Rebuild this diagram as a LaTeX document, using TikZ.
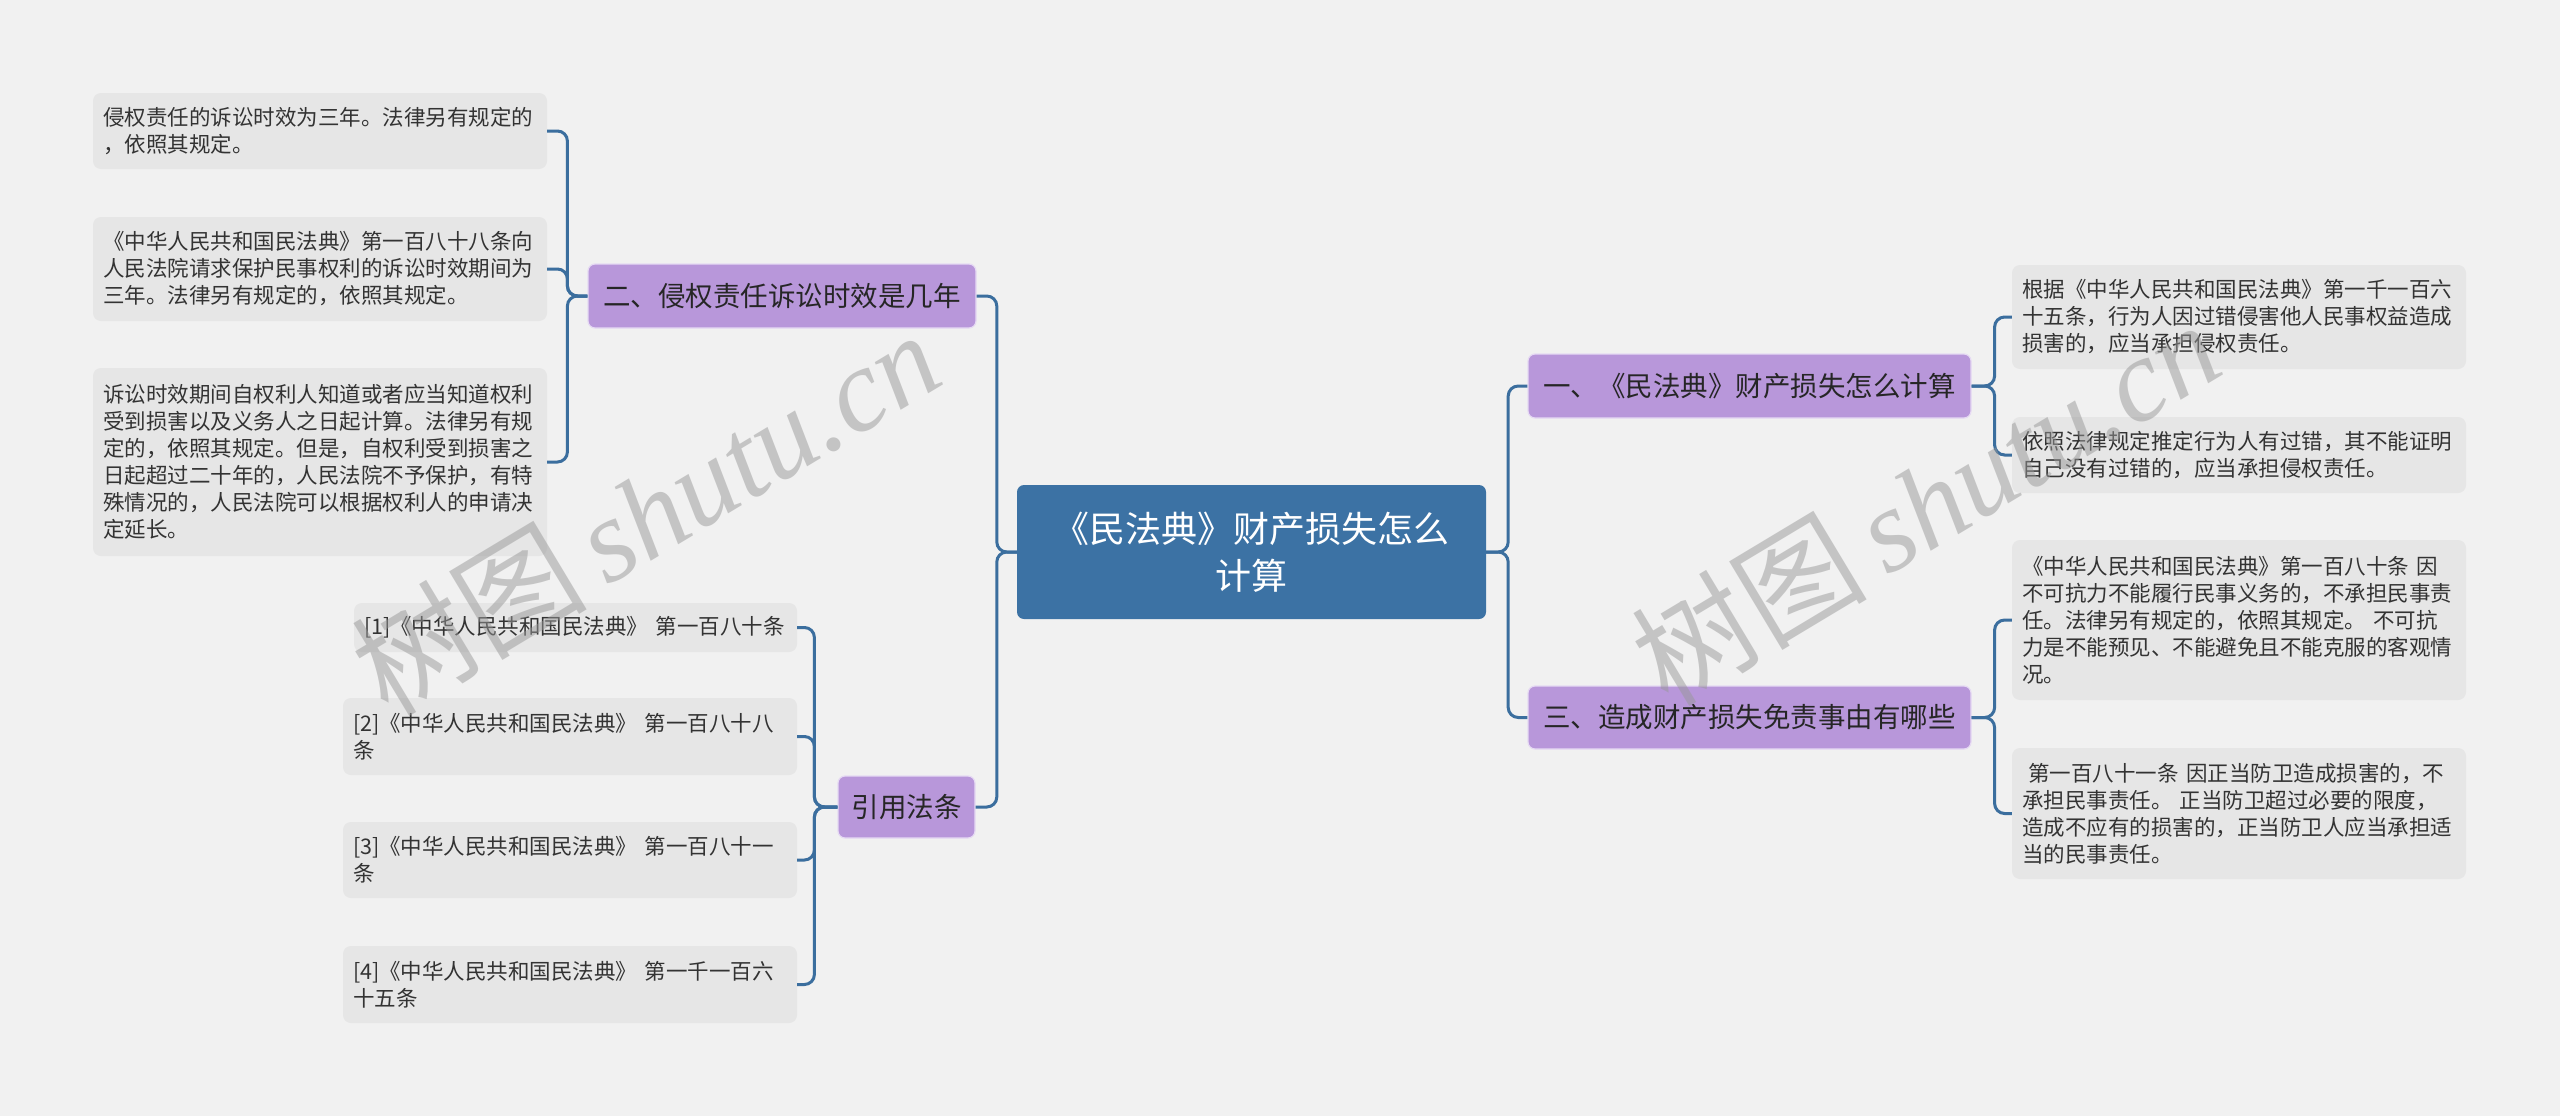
\documentclass[tikz,border=0pt]{standalone}
\usepackage{fontspec}
\setmainfont{Noto Sans CJK SC}
\newfontfamily\cjk{Noto Sans CJK SC}
\newfontfamily\wmlatin{Liberation Serif}
\definecolor{bgc}{HTML}{F1F1F1}
\definecolor{leafc}{HTML}{E6E6E6}
\definecolor{connc}{HTML}{3B6E9E}
\definecolor{rootc}{HTML}{3C72A4}
\definecolor{purc}{HTML}{B897DA}
\definecolor{purl}{HTML}{E6DAF3}
\definecolor{textc}{HTML}{333333}
\definecolor{wmc}{HTML}{989898}
\tikzset{
  leafbox/.style={fill=leafc, rounded corners=8, inner xsep=10, inner ysep=0,
    align=left, text=textc, font=\fontsize{21.5}{27}\selectfont, anchor=center},
  branchbox/.style={fill=purc, draw=purl, line width=1.2, rounded corners=7, inner sep=0,
    align=center, text=black!85, font=\fontsize{27.5}{34}\selectfont, anchor=center},
  rootbox/.style={fill=rootc, rounded corners=7, inner sep=0, align=center,
    text=white, font=\fontsize{36}{47}\selectfont, anchor=center},
  conn/.style={draw=connc, line width=3, rounded corners=10},
  wm/.style={text=wmc, opacity=0.5, font=\fontsize{118}{118}\selectfont, anchor=center, inner sep=0}
}
\begin{document}
\begin{tikzpicture}[x=1pt,y=-1pt]
\path[fill=bgc] (0,0) rectangle (2560,1116);
\useasboundingbox (0,0) rectangle (2560,1116);

% root
\node[rootbox, minimum width=469, minimum height=134, text width=450] (root) at (1251.5,552)
  {《民法典》财产损失怎么\\计算};

% branches
\node[branchbox, minimum width=388, minimum height=64] (b2) at (782,296) {二、侵权责任诉讼时效是几年};
\node[branchbox, minimum width=137, minimum height=62] (bc) at (906.5,807) {引用法条};
\node[branchbox, minimum width=443, minimum height=64] (b1) at (1749.5,386) {一、《民法典》财产损失怎么计算};
\node[branchbox, minimum width=443, minimum height=63] (b3) at (1749.5,717.5) {三、造成财产损失免责事由有哪些};

% left leaves
\node[leafbox, text width=434, minimum height=76] (l1) at (320,131)
  {侵权责任的诉讼时效为三年。法律另有规定的\\，依照其规定。};
\node[leafbox, text width=434, minimum height=104] (l2) at (320,269)
  {《中华人民共和国民法典》第一百八十八条向\\人民法院请求保护民事权利的诉讼时效期间为\\三年。法律另有规定的，依照其规定。};
\node[leafbox, text width=434, minimum height=188] (l3) at (320,462)
  {诉讼时效期间自权利人知道或者应当知道权利\\受到损害以及义务人之日起计算。法律另有规\\定的，依照其规定。但是，自权利受到损害之\\日起超过二十年的，人民法院不予保护，有特\\殊情况的，人民法院可以根据权利人的申请决\\定延长。};

% citations
\node[leafbox, text width=423, minimum height=49] (c1) at (575.5,627.5)
  {[1]《中华人民共和国民法典》~第一百八十条};
\node[leafbox, text width=434, minimum height=77] (c2) at (570,736.5)
  {[2]《中华人民共和国民法典》~第一百八十八\\条};
\node[leafbox, text width=434, minimum height=76] (c3) at (570,860)
  {[3]《中华人民共和国民法典》~第一百八十一\\条};
\node[leafbox, text width=434, minimum height=77] (c4) at (570,984.5)
  {[4]《中华人民共和国民法典》~第一千一百六\\十五条};

% right leaves
\node[leafbox, text width=434, minimum height=104] (r1) at (2239,317)
  {根据《中华人民共和国民法典》第一千一百六\\十五条，行为人因过错侵害他人民事权益造成\\损害的，应当承担侵权责任。};
\node[leafbox, text width=434, minimum height=76] (r2) at (2239,455)
  {依照法律规定推定行为人有过错，其不能证明\\自己没有过错的，应当承担侵权责任。};
\node[leafbox, text width=434, minimum height=160] (r3) at (2239,620)
  {《中华人民共和国民法典》第一百八十条~因\\不可抗力不能履行民事义务的，不承担民事责\\任。法律另有规定的，依照其规定。~不可抗\\力是不能预见、不能避免且不能克服的客观情\\况。};
\node[leafbox, text width=434, minimum height=131] (r4) at (2239,813.5)
  {\hspace*{0.3em}第一百八十一条~因正当防卫造成损害的，不\\承担民事责任。~正当防卫超过必要的限度，\\造成不应有的损害的，正当防卫人应当承担适\\当的民事责任。};

% connectors
\draw[conn] (root.west) -- ++(-20,0) |- (b2.east);
\draw[conn] (root.west) -- ++(-20,0) |- (bc.east);
\draw[conn] (root.east) -- ++(22,0) |- (b1.west);
\draw[conn] (root.east) -- ++(22,0) |- (b3.west);

\draw[conn] (b2.west) -- ++(-20,0) |- (l1.east);
\draw[conn] (b2.west) -- ++(-20,0) |- (l2.east);
\draw[conn] (b2.west) -- ++(-20,0) |- (l3.east);

\draw[conn] (bc.west) -- ++(-23,0) |- (c1.east);
\draw[conn] (bc.west) -- ++(-23,0) |- (c2.east);
\draw[conn] (bc.west) -- ++(-23,0) |- (c3.east);
\draw[conn] (bc.west) -- ++(-23,0) |- (c4.east);

\draw[conn] (b1.east) -- ++(23,0) |- (r1.west);
\draw[conn] (b1.east) -- ++(23,0) |- (r2.west);
\draw[conn] (b3.east) -- ++(23,0) |- (r3.west);
\draw[conn] (b3.east) -- ++(23,0) |- (r4.west);

% watermarks
\node[wm, rotate=31] (wm1) at (645,512) {{\cjk 树图}\,{\wmlatin\itshape shutu.cn}};
\node[wm, rotate=31] (wm2) at (1925,502) {{\cjk 树图}\,{\wmlatin\itshape shutu.cn}};
\end{tikzpicture}
\end{document}
